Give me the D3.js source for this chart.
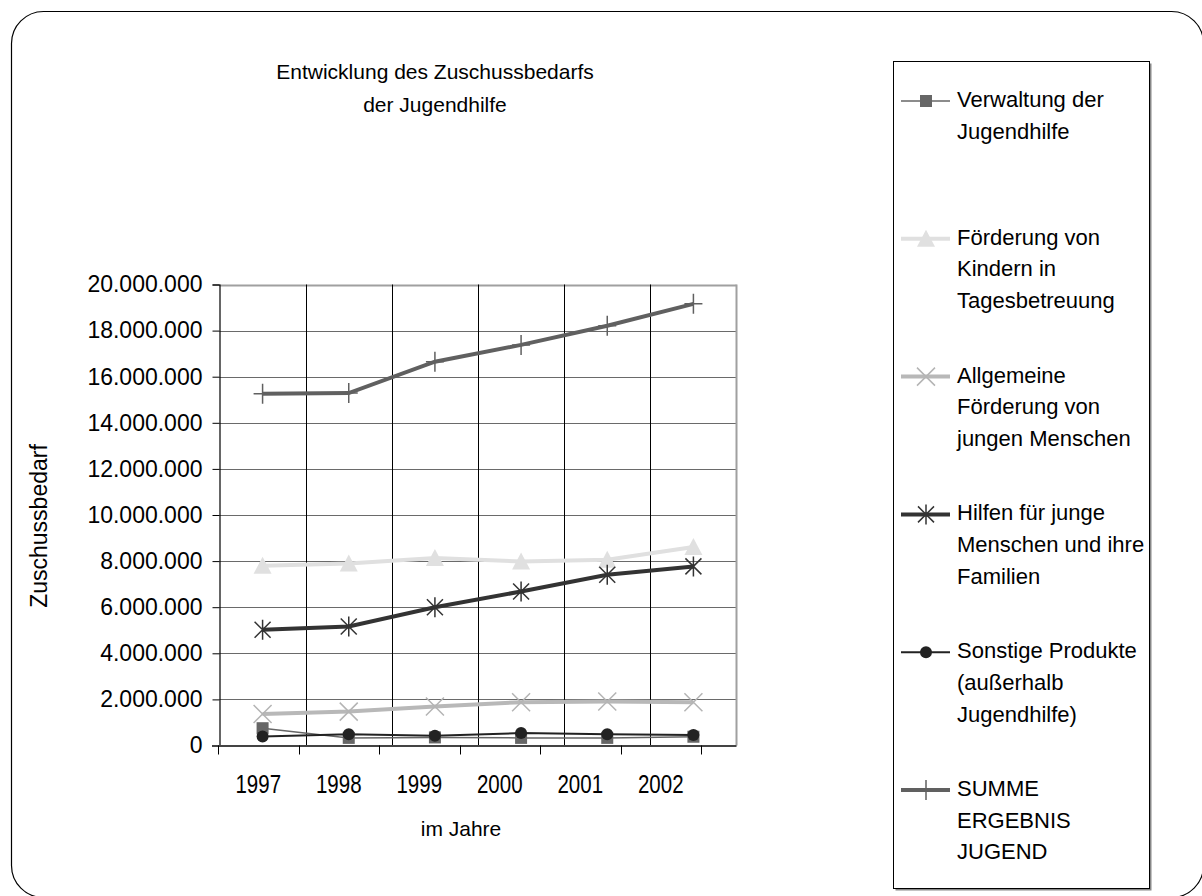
<!DOCTYPE html>
<html>
<head>
<meta charset="utf-8">
<script src="https://cdn.jsdelivr.net/npm/d3@7"></script>
<style>
    body { margin: 0; background: #fff; }
    text { font-family: "Liberation Sans", Arial, sans-serif; fill: #000; }
</style>
</head>
<body>
<div class="container"></div>
<script>
// data
var years = ['1997', '1998', '1999', '2000', '2001', '2002'];
var yTicks = [0, 2000000, 4000000, 6000000, 8000000, 10000000, 12000000, 14000000, 16000000, 18000000, 20000000];

var verwaltung = [750000, 330000, 350000, 330000, 330000, 380000];
var foerderungKinder = [7800000, 7900000, 8130000, 7980000, 8060000, 8610000];
var allgemeine = [1370000, 1470000, 1690000, 1880000, 1910000, 1880000];
var hilfen = [5020000, 5160000, 6000000, 6680000, 7410000, 7770000];
var sonstige = [390000, 490000, 420000, 540000, 490000, 460000];
var summe = [15260000, 15290000, 16650000, 17380000, 18210000, 19160000];

var seriesNames = [
    ['Verwaltung der', 'Jugendhilfe'],
    ['Förderung von', 'Kindern in', 'Tagesbetreuung'],
    ['Allgemeine', 'Förderung von', 'jungen Menschen'],
    ['Hilfen für junge', 'Menschen und ihre', 'Familien'],
    ['Sonstige Produkte', '(außerhalb', 'Jugendhilfe)'],
    ['SUMME', 'ERGEBNIS', 'JUGEND']
];

!function () {
    var width = 1202, height = 896;
    var svg = d3.select('.container')
        .append('svg')
        .attr('width', width)
        .attr('height', height);

    // outer rounded frame
    svg.append('rect')
        .attr('x', 11.5).attr('y', 11.5)
        .attr('width', 1192).attr('height', 886)
        .attr('rx', 32).attr('ry', 32)
        .attr('fill', 'none')
        .attr('stroke', '#000')
        .attr('stroke-width', 1.2);

    var series = [
        {name: seriesNames[0], values: verwaltung, color: '#666', width: 1.5, marker: 'square', mcolor: '#666'},
        {name: seriesNames[1], values: foerderungKinder, color: '#e0e0e0', width: 4, marker: 'triangle', mcolor: '#e0e0e0'},
        {name: seriesNames[2], values: allgemeine, color: '#b8b8b8', width: 4, marker: 'x', mcolor: '#b4b4b4'},
        {name: seriesNames[3], values: hilfen, color: '#333', width: 4, marker: 'star', mcolor: '#333'},
        {name: seriesNames[4], values: sonstige, color: '#222', width: 2, marker: 'circle', mcolor: '#222'},
        {name: seriesNames[5], values: summe, color: '#606060', width: 4, marker: 'plus', mcolor: '#606060'}
    ];

    var left = 219.5, right = 736.5, top = 284.5, bottom = 745.5;

    // scales
    var x = d3.scaleBand().domain(years).range([left, right]);
    var xAxisScale = d3.scaleBand().domain(years).range([218, 701]);
    var y = d3.scaleLinear().domain([0, 20000000]).range([bottom, top]);

    var fmt = function (d) {
        return d3.format(',')(d).replace(/,/g, '.');
    };

    // horizontal grid
    svg.append('g')
        .selectAll('line')
        .data(yTicks.slice(1))
        .enter()
        .append('line')
        .attr('x1', left).attr('x2', right)
        .attr('y1', function (d) { return Math.round(y(d)) + 0.5; })
        .attr('y2', function (d) { return Math.round(y(d)) + 0.5; })
        .attr('stroke', function (d) { return d === 20000000 ? '#a0a0a0' : '#6a6a6a'; })
        .attr('stroke-width', function (d) { return d === 20000000 ? 2 : 1; });

    // vertical grid (category boundaries)
    svg.append('g')
        .selectAll('line')
        .data(years.slice(1))
        .enter()
        .append('line')
        .attr('x1', function (d) { return Math.round(x(d)) + 0.5; })
        .attr('x2', function (d) { return Math.round(x(d)) + 0.5; })
        .attr('y1', top).attr('y2', bottom)
        .attr('stroke', '#000')
        .attr('stroke-width', 1);

    // right border of plot
    svg.append('line')
        .attr('x1', right).attr('x2', right)
        .attr('y1', top).attr('y2', bottom)
        .attr('stroke', '#a0a0a0')
        .attr('stroke-width', 2);

    // y axis
    var yAxis = d3.axisLeft(y)
        .tickValues(yTicks)
        .tickFormat(fmt)
        .tickSize(7)
        .tickPadding(10);

    var gy = svg.append('g')
        .attr('transform', 'translate(' + left + ',0)')
        .call(yAxis);
    gy.select('.domain').attr('stroke', '#000').attr('stroke-width', 1.2);
    gy.selectAll('.tick line').attr('stroke', '#000');
    gy.selectAll('.tick text')
        .attr('font-size', 23)
        .attr('font-family', '"Liberation Sans", Arial, sans-serif')
        .attr('fill', '#000');

    // x axis (labels)
    var xAxis = d3.axisBottom(xAxisScale)
        .tickSize(0)
        .tickPadding(0);
    var gx = svg.append('g')
        .attr('transform', 'translate(0,' + bottom + ')')
        .call(xAxis);
    gx.select('.domain').remove();
    gx.selectAll('.tick text')
        .attr('dy', null)
        .attr('y', 48)
        .attr('transform', 'scale(0.82,1)')
        .attr('font-size', 25)
        .attr('font-family', '"Liberation Sans", Arial, sans-serif')
        .attr('fill', '#000');

    // x axis line and boundary ticks
    svg.append('line')
        .attr('x1', 212).attr('x2', right)
        .attr('y1', bottom + 0.5).attr('y2', bottom + 0.5)
        .attr('stroke', '#444')
        .attr('stroke-width', 2);

    var bounds = years.map(function (d) { return xAxisScale(d); }).concat([xAxisScale.range()[1]]);
    svg.append('g')
        .selectAll('line')
        .data(bounds)
        .enter()
        .append('line')
        .attr('x1', function (d) { return Math.round(d) + 0.5; })
        .attr('x2', function (d) { return Math.round(d) + 0.5; })
        .attr('y1', bottom).attr('y2', bottom + 9)
        .attr('stroke', '#000');

    // axis titles
    svg.append('text')
        .attr('x', 461).attr('y', 836)
        .attr('text-anchor', 'middle')
        .attr('font-size', 21)
        .text('im Jahre');

    svg.append('text')
        .attr('transform', 'translate(47,526) rotate(-90)')
        .attr('text-anchor', 'middle')
        .attr('font-size', 23)
        .text('Zuschussbedarf');

    // title
    svg.append('text')
        .attr('x', 435).attr('y', 79)
        .attr('text-anchor', 'middle')
        .attr('font-size', 21)
        .text('Entwicklung des Zuschussbedarfs');
    svg.append('text')
        .attr('x', 435).attr('y', 112)
        .attr('text-anchor', 'middle')
        .attr('font-size', 21)
        .text('der Jugendhilfe');

    // markers
    function drawMarker(g, type, color) {
        if (type === 'square') {
            g.append('rect').attr('x', -6).attr('y', -6).attr('width', 12).attr('height', 12).attr('fill', color);
        } else if (type === 'triangle') {
            g.append('path').attr('d', 'M0,-9L9,8L-9,8Z').attr('fill', color);
        } else if (type === 'circle') {
            g.append('circle').attr('r', 6).attr('fill', color);
        } else if (type === 'x') {
            g.append('path').attr('d', 'M-9,-9L9,9M-9,9L9,-9').attr('stroke', color).attr('stroke-width', 1.5).attr('fill', 'none');
        } else if (type === 'star') {
            g.append('path').attr('d', 'M-8,-8L8,8M-8,8L8,-8M0,-10L0,10').attr('stroke', color).attr('stroke-width', 1.5).attr('fill', 'none');
        } else if (type === 'plus') {
            g.append('path').attr('d', 'M-9,0L9,0M0,-10L0,10').attr('stroke', color).attr('stroke-width', 1.5).attr('fill', 'none');
        }
    }

    var line = d3.line()
        .x(function (d, i) { return x(years[i]) + x.bandwidth() / 2; })
        .y(function (d) { return y(d); });

    var sg = svg.selectAll('.series')
        .data(series)
        .enter()
        .append('g')
        .attr('class', 'series');

    sg.append('path')
        .attr('d', function (d) { return line(d.values); })
        .attr('fill', 'none')
        .attr('stroke', function (d) { return d.color; })
        .attr('stroke-width', function (d) { return d.width; });

    sg.each(function (s) {
        var g = d3.select(this);
        s.values.forEach(function (v, i) {
            var m = g.append('g')
                .attr('transform', 'translate(' + (x(years[i]) + x.bandwidth() / 2) + ',' + y(v) + ')');
            drawMarker(m, s.marker, s.mcolor);
        });
    });

    // legend
    var lx = 893.5, ly = 61.5, lw = 256, lh = 827;
    svg.append('rect')
        .attr('x', lx + 2).attr('y', ly + 2)
        .attr('width', lw).attr('height', lh)
        .attr('fill', '#888');
    svg.append('rect')
        .attr('x', lx).attr('y', ly)
        .attr('width', lw).attr('height', lh)
        .attr('fill', '#fff')
        .attr('stroke', '#000')
        .attr('stroke-width', 1);

    var legend = svg.selectAll('.legend')
        .data(series)
        .enter()
        .append('g')
        .attr('class', 'legend')
        .attr('transform', function (d, i) { return 'translate(0,' + (107 + i * 137.8) + ')'; });

    legend.append('line')
        .attr('x1', 901).attr('x2', 950)
        .attr('y1', -6).attr('y2', -6)
        .attr('stroke', function (d) { return d.color; })
        .attr('stroke-width', function (d) { return d.width; });

    legend.each(function (s) {
        var m = d3.select(this).append('g').attr('transform', 'translate(926,-6)');
        drawMarker(m, s.marker, s.mcolor);
    });

    legend.each(function (s) {
        var t = d3.select(this).append('text')
            .attr('x', 957)
            .attr('y', 0)
            .attr('font-size', 22);
        s.name.forEach(function (ln, j) {
            t.append('tspan').attr('x', 957).attr('y', j * 31.7).text(ln);
        });
    });
}();
</script>
</body>
</html>
